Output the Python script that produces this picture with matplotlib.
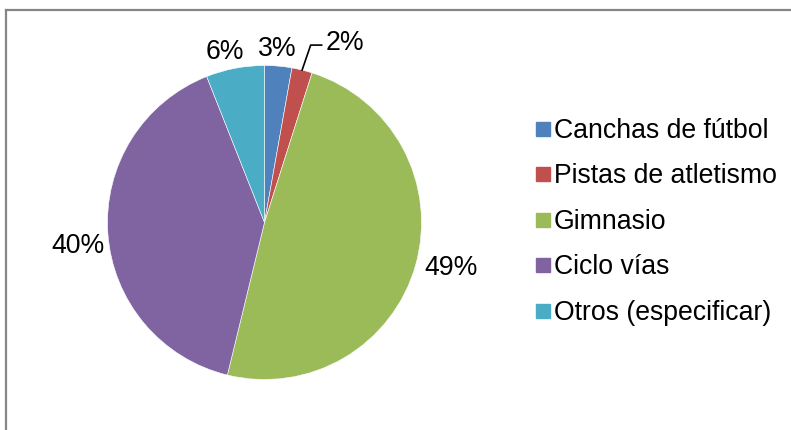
import matplotlib
matplotlib.use("Agg")
import matplotlib.pyplot as plt
from matplotlib.lines import Line2D
import numpy as np

categories = ["Canchas de fútbol", "Pistas de atletismo", "Gimnasio", "Ciclo vías", "Otros (especificar)"]
values = [2.8, 2.1, 48.9, 40.2, 6.0]
labels = ["3%", "2%", "49%", "40%", "6%"]
colors = ["#4F81BD", "#C0504D", "#9BBB59", "#8064A2", "#4BACC6"]

plt.rcParams['font.family'] = ['Liberation Sans', 'DejaVu Sans']
FS = 19.2

W, H = 791, 430
fig = plt.figure(figsize=(W / 100, H / 100), dpi=100)

# chart border (only top and left visible)
fig.add_artist(Line2D([6.5 / W, 6.5 / W], [0, 1 - 9.5 / H], transform=fig.transFigure,
                      color="#868686", lw=1.6))
fig.add_artist(Line2D([6.5 / W, 1], [1 - 9.5 / H, 1 - 9.5 / H], transform=fig.transFigure,
                      color="#868686", lw=1.6))

cx, cy, r = 264.5, 222.5, 157
ax = fig.add_axes([(cx - r) / W, (H - cy - r) / H, 2 * r / W, 2 * r / H])
wedges, _ = ax.pie(values, colors=colors, startangle=90, counterclock=False,
                   wedgeprops=dict(edgecolor="white", linewidth=0.4))
ax.set_xlim(-1, 1)
ax.set_ylim(-1, 1)
ax.set_aspect("equal")
ax.axis("off")

dists = [1.11, None, 1.225, 1.2, 1.115]
angle_off = [1.0, 0, 2.1, 3.3, 2.2]
for i, w in enumerate(wedges):
    mid = np.deg2rad((w.theta1 + w.theta2) / 2)
    if i == 1:
        x0, y0 = np.cos(mid), np.sin(mid)
        ex, ey = 0.294, 1.13
        hx = 0.364
        ax.plot([x0, ex, hx], [y0, ey, ey], color="black", lw=1.2, clip_on=False)
        ax.text(hx + 0.025, ey + 0.012, labels[i], fontsize=FS, ha="left", va="center")
    else:
        a = mid + np.deg2rad(angle_off[i])
        d = dists[i]
        ax.text(d * np.cos(a), d * np.sin(a), labels[i], fontsize=FS, ha="center", va="center")

handles = [Line2D([], [], marker="s", linestyle="none", markersize=10.5,
                  markerfacecolor=c, markeredgecolor=c) for c in colors]
fig.legend(handles, categories, loc="upper left", bbox_to_anchor=(535 / W, 1 - 118 / H),
           frameon=False, fontsize=FS, handlelength=0.6, handletextpad=0.1,
           labelspacing=0.73, borderpad=0, borderaxespad=0)

fig.savefig("out.png", dpi=100, facecolor="white")
